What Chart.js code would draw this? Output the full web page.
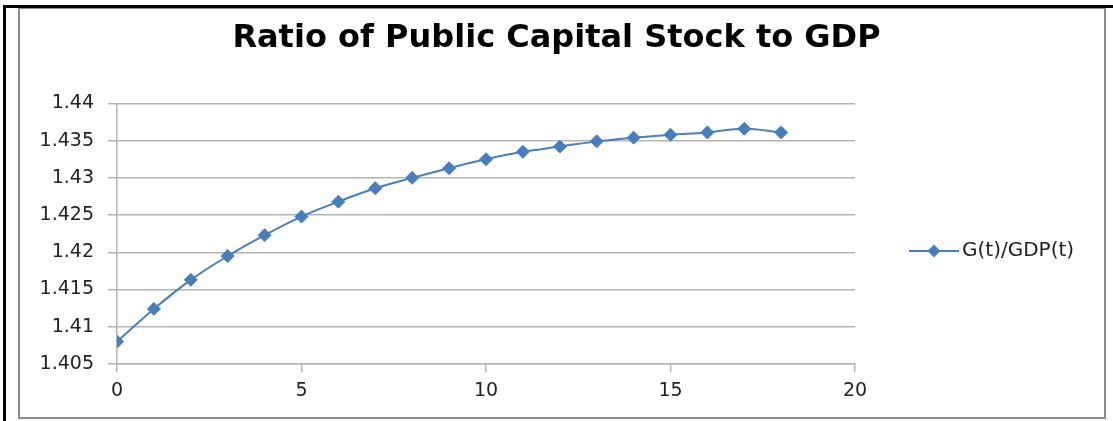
<!DOCTYPE html>
<html>
<head>
<meta charset="utf-8">
<script src="https://cdn.jsdelivr.net/npm/chart.js@4"></script>
<style>
    body { margin: 0; background: #fff; }
    #wrap { position: relative; width: 1113px; height: 421px; overflow: hidden; }
    .outer { position: absolute; left: 3px; top: 5px; width: 1120px; height: 430px;
             border-left: 3px solid #000; border-top: 3px solid #000; }
    .inner { position: absolute; left: 18px; top: 8px; width: 1084px; height: 408px;
             border: 2px solid #8c8c8c; border-top-width: 1px; }
    canvas { position: absolute; left: 0; top: 0; }
</style>
</head>
<body>
<div id="wrap">
    <div class="outer"></div>
    <div class="inner"></div>
    <canvas id="ratioChart" width="1113" height="421"></canvas>
</div>
<script>
const periods = [0, 1, 2, 3, 4, 5, 6, 7, 8, 9, 10, 11, 12, 13, 14, 15, 16, 17, 18];
const ratioValues = [1.4080, 1.4124, 1.4163, 1.4195, 1.4223, 1.4248, 1.4268, 1.4286, 1.4300,
    1.4313, 1.4325, 1.4335, 1.4342, 1.4349, 1.4354, 1.4358, 1.4361, 1.4366, 1.4361];
const seriesName = 'G(t)/GDP(t)';
const lineBlue = '#4a7ebb';
const gridGray = '#b3b3b3';

//..legend drawn at the right like excel does it (line + diamond)
const sideLegend = {
    id: 'sideLegend',
    afterDraw(chart) {
        const ctx = chart.ctx;
        const x0 = chart.chartArea.right + 54;
        const y0 = 251;
        ctx.save();
        ctx.strokeStyle = lineBlue;
        ctx.lineWidth = 2;
        ctx.beginPath();
        ctx.moveTo(x0, y0);
        ctx.lineTo(x0 + 50, y0);
        ctx.stroke();
        ctx.fillStyle = lineBlue;
        ctx.beginPath();
        ctx.moveTo(x0 + 25, y0 - 6.5);
        ctx.lineTo(x0 + 31.5, y0);
        ctx.lineTo(x0 + 25, y0 + 6.5);
        ctx.lineTo(x0 + 18.5, y0);
        ctx.closePath();
        ctx.fill();
        ctx.fillStyle = '#222';
        ctx.font = '20px "DejaVu Sans"';
        ctx.textBaseline = 'middle';
        ctx.fillText(seriesName, x0 + 53, y0);
        ctx.restore();
    }
};

document.addEventListener('DOMContentLoaded', function () {
    new Chart(document.getElementById('ratioChart'), {
        type: 'line',
        data: {
            datasets: [{
                label: seriesName,
                data: periods.map((p, i) => ({ x: p, y: ratioValues[i] })),
                borderColor: lineBlue,
                backgroundColor: lineBlue,
                borderWidth: 2,
                tension: 0.4,
                pointStyle: 'rectRot',
                pointRadius: 6.5,
                pointBorderWidth: 1,
                pointBorderColor: lineBlue,
                pointBackgroundColor: lineBlue
            }]
        },
        options: {
            responsive: false,
            animation: false,
            layout: { padding: 0 },
            plugins: {
                legend: { display: false },
                tooltip: { enabled: false },
                title: {
                    display: true,
                    text: 'Ratio of Public Capital Stock to GDP',
                    color: '#000',
                    font: { family: '"DejaVu Sans"', size: 32, weight: 'bold', lineHeight: 1.2 },
                    padding: { top: 19, bottom: 46 }
                }
            },
            scales: {
                x: {
                    type: 'linear',
                    min: 0,
                    max: 20,
                    afterFit: s => { s.height = 57; },
                    ticks: {
                        stepSize: 5,
                        padding: 8,
                        color: '#222',
                        font: { family: '"DejaVu Sans"', size: 19 }
                    },
                    grid: { drawOnChartArea: false, drawTicks: true, tickLength: 8, color: gridGray, lineWidth: 1.5 },
                    border: { color: gridGray, width: 1.5 }
                },
                y: {
                    min: 1.405,
                    max: 1.44,
                    afterFit: s => { s.width = 117; },
                    ticks: {
                        stepSize: 0.005,
                        padding: 14,
                        color: '#222',
                        font: { family: '"DejaVu Sans"', size: 19 },
                        callback: v => String(parseFloat(v.toFixed(3)))
                    },
                    grid: { color: gridGray, lineWidth: 1.5, tickLength: 9 },
                    border: { color: gridGray, width: 1.5 }
                },
                //...empty right axis just to reserve room for the legend
                legendSpace: {
                    position: 'right',
                    min: 0,
                    max: 1,
                    afterFit: s => { s.width = 258; },
                    ticks: { display: false },
                    grid: { display: false },
                    border: { display: false }
                }
            }
        },
        plugins: [sideLegend]
    });
});
</script>
</body>
</html>
